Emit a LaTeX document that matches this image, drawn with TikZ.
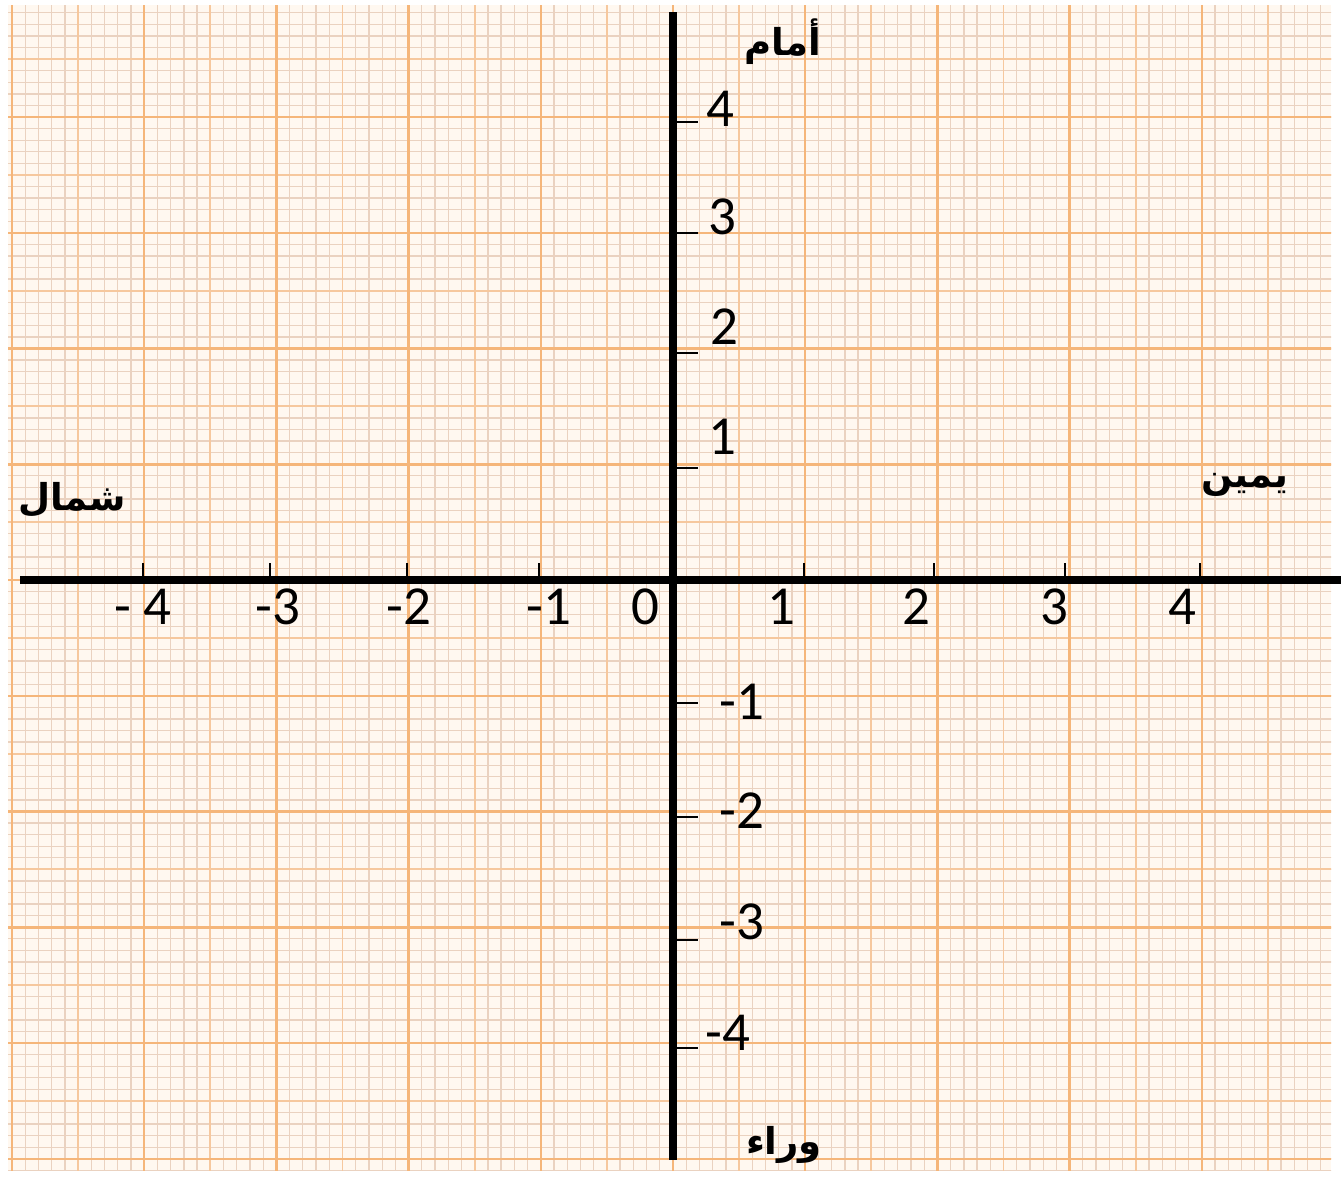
\documentclass[tikz,border=0pt]{standalone}
\usepackage{fontspec}
\setmainfont{Carlito}
\newfontfamily\arabicfont[Script=Arabic]{DejaVu Sans}
\TeXXeTstate=1
\definecolor{paper}{RGB}{255,248,240}
\definecolor{finegrid}{RGB}{234,210,192}
\definecolor{midgrid}{RGB}{246,200,158}
\definecolor{heavygrid}{RGB}{245,182,122}
\tikzset{
  fineline/.style={finegrid,line width=1.3pt},
  midline/.style={midgrid,line width=1.9pt},
  heavyline/.style={heavygrid,line width=2.5pt},
  axisline/.style={black,line width=8pt},
  tickline/.style={black,line width=1.6pt},
  numlabel/.style={inner sep=0pt,font=\fontsize{55}{60}\selectfont},
  arlabel/.style={inner sep=0pt,font=\arabicfont\bfseries\fontsize{37}{44}\selectfont}
}
\begin{document}
\begin{tikzpicture}[x=1pt,y=-1pt]
\useasboundingbox (0,0) rectangle (1341,1176);
\fill[white] (0,0) rectangle (1341,1176);
\fill[paper] (8,5) rectangle (1331,1170);
\begin{scope}
\clip (8,5) rectangle (1331,1170);
\foreach \k in {-51,...,51}{
  \draw[fineline] ({673+\k*13.22},0) -- ({673+\k*13.22},1176);
  \draw[fineline] (0,{580+\k*11.575}) -- (1341,{580+\k*11.575});
}
\foreach \k in {-55,-45,...,55}{
  \draw[midline] ({673+\k*13.22},0) -- ({673+\k*13.22},1176);
  \draw[midline] (0,{580+\k*11.575}) -- (1341,{580+\k*11.575});
}
\foreach \k in {-50,-40,...,50}{
  \draw[heavyline] ({673+\k*13.22},0) -- ({673+\k*13.22},1176);
  \draw[heavyline] (0,{580+\k*11.575}) -- (1341,{580+\k*11.575});
}
\end{scope}
% axes
\coordinate (xl) at (20,580);
\coordinate (xr) at (1341,580);
\coordinate (yt) at (673,12);
\coordinate (yb) at (673,1160);
\draw[axisline] (xl) -- (xr);
\draw[axisline] (yt) -- (yb);
% x ticks
\foreach \i/\px in {m4/143,m3/270,m2/407,m1/539,p1/804,p2/934,p3/1065,p4/1200}{
  \coordinate (xt\i) at (\px,580);
  \draw[tickline] (xt\i) -- ++(0,-17);
}
% y ticks
\foreach \i/\py in {p4/122,p3/233,p2/353,p1/468,m1/703,m2/817,m3/940,m4/1048}{
  \coordinate (yt\i) at (673,\py);
  \draw[tickline] (yt\i) -- ++(25,0);
}
% x labels
\node[numlabel] (lxm4) at (143,607) {- 4};
\node[numlabel] (lxm3) at (278,607) {-3};
\node[numlabel] (lxm2) at (409,607) {-2};
\node[numlabel] (lxm1) at (549,607) {-1};
\node[numlabel] (lx0) at (645,607) {0};
\node[numlabel] (lxp1) at (781,607) {1};
\node[numlabel] (lxp2) at (916,607) {2};
\node[numlabel] (lxp3) at (1054,607) {3};
\node[numlabel] (lxp4) at (1182,607) {4};
% y labels
\node[numlabel] (lyp4) at (720,109) {4};
\node[numlabel] (lyp3) at (722,217) {3};
\node[numlabel] (lyp2) at (724,327) {2};
\node[numlabel] (lyp1) at (722,437) {1};
\node[numlabel] (lym1) at (742,702) {-1};
\node[numlabel] (lym2) at (742,811) {-2};
\node[numlabel] (lym3) at (742,922) {-3};
\node[numlabel] (lym4) at (728,1033) {-4};
% direction labels
\node[arlabel] (front) at (783,42) {\beginR أمام\endR};
\node[arlabel] (left) at (72,500) {\beginR شمال\endR};
\node[arlabel] (right) at (1245,485) {\beginR يمين\endR};
\node[arlabel] (back) at (784,1145) {\beginR وراء\endR};
\end{tikzpicture}
\end{document}
